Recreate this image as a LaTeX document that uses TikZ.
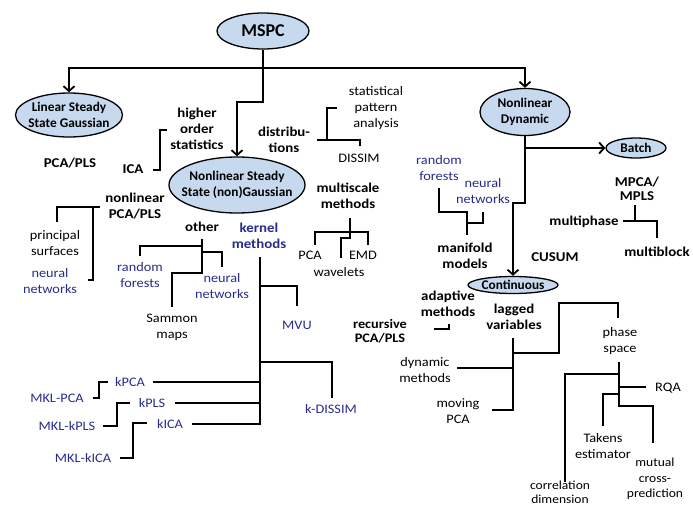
\documentclass[tikz,border=0pt]{standalone}
\usepackage{fontspec}
\setmainfont{Carlito}
\newfontfamily\lblfont{Carlito}[FakeStretch=1.1]
\usetikzlibrary{shapes.geometric,arrows.meta}
\definecolor{kblue}{RGB}{40,45,140}
\definecolor{ovalfill}{RGB}{198,217,238}
\begin{document}
\begin{tikzpicture}[x=1pt,y=-1pt,
  lbl/.style={font=\lblfont\fontsize{13}{16}\selectfont, align=center, inner sep=0pt},
  blbl/.style={lbl, font=\lblfont\fontsize{13.5}{16}\selectfont\bfseries},
  blu/.style={lbl, text=kblue},
  oval/.style={ellipse, draw, line width=1.3pt, fill=ovalfill, inner xsep=-14pt, inner ysep=-4pt,
    align=center, font=\fontsize{13.3}{16.5}\selectfont\bfseries},
  trunk/.style={line width=2.2pt, line join=miter},
  arr/.style={trunk, -{Straight Barb[length=5pt,width=11pt,line width=1.8pt]}},
  br/.style={line width=1.4pt}
]
\fill[white] (0,0) rectangle (693,506);
\useasboundingbox (0,0) rectangle (693,506);

% ---- category ovals ----
\node[oval, minimum width=92pt, minimum height=36pt, font=\fontsize{18}{20}\selectfont\bfseries] (mspc) at (263,31) {MSPC};
\node[oval, minimum width=107pt, minimum height=44pt] (lin) at (69,115) {Linear Steady\\State Gaussian};
\node[oval, minimum width=136pt, minimum height=56pt] (nss) at (237,185) {Nonlinear Steady\\State (non)Gaussian};
\node[oval, minimum width=90pt, minimum height=47pt] (nld) at (525,112) {Nonlinear\\Dynamic};
\node[oval, minimum width=60pt, minimum height=20pt] (batch) at (636,148) {Batch};
\node[oval, minimum width=90pt, minimum height=17pt] (cont) at (513,285) {Continuous};

% ---- method labels ----
\node[blbl] (pcapls) at (70,163) {PCA/PLS};
\node[blbl] (hos) at (197,129) {higher\\order\\statistics};
\node[blbl] (ica) at (133,169) {ICA};
\node[blbl] (distr) at (284,140) {distribu-\\tions};
\node[lbl] (spa) at (376,108) {statistical\\pattern\\analysis};
\node[lbl] (dissim) at (359,158) {DISSIM};
\node[blbl] (msm) at (348,196) {multiscale\\methods};
\node[lbl] (mspca) at (310,255) {PCA};
\node[lbl] (emd) at (363,255) {EMD};
\node[lbl] (wav) at (339,272) {wavelets};
\node[blbl] (nlpca) at (135,206) {nonlinear\\PCA/PLS};
\node[lbl] (ps) at (55,243) {principal\\surfaces};
\node[blu] (nn1) at (50,281) {neural\\networks};
\node[blbl] (other) at (202,227) {other};
\node[blu] (rf1) at (140,275) {random\\forests};
\node[blu] (nn2) at (222,286) {neural\\networks};
\node[lbl] (sam) at (172,327) {Sammon\\maps};
\node[blu, font=\lblfont\fontsize{13.5}{16}\selectfont\bfseries] (kern) at (259,236) {kernel\\methods};
\node[blu] (mvu) at (297,325) {MVU};
\node[blu] (kdis) at (331,409) {k-DISSIM};
\node[blu] (kpca) at (130,382) {kPCA};
\node[blu] (kpls) at (152,403) {kPLS};
\node[blu] (kica) at (170,424) {kICA};
\node[blu] (mklpca) at (57,398) {MKL-PCA};
\node[blu] (mklkpls) at (67,426) {MKL-kPLS};
\node[blu] (mklkica) at (83,458) {MKL-kICA};
\node[blu] (rf2) at (439,168) {random\\forests};
\node[blu] (nn3) at (483,191) {neural\\networks};
\node[blbl] (manif) at (465,256) {manifold\\models};
\node[blbl] (cusum) at (555,257) {CUSUM};
\node[blbl, font=\lblfont\fontsize{13.5}{14.5}\selectfont\bfseries] (mpcab) at (637,189) {MPCA/\\MPLS};
\node[blbl] (mphase) at (584,222) {multiphase};
\node[blbl] (mblock) at (657,252) {multiblock};
\node[blbl] (adapt) at (448,304) {adaptive\\methods};
\node[blbl, font=\lblfont\fontsize{13}{13.5}\selectfont\bfseries] (recur) at (380,331) {recursive\\PCA/PLS};
\node[blbl] (lagged) at (514,317) {lagged\\variables};
\node[lbl] (dynm) at (425,370) {dynamic\\methods};
\node[lbl] (movpca) at (458,411) {moving\\PCA};
\node[lbl] (phase) at (620,341) {phase\\space};
\node[lbl] (rqa) at (668,388) {RQA};
\node[lbl] (takens) at (603,446) {Takens\\estimator};
\node[lbl, font=\lblfont\fontsize{12.3}{15.5}\selectfont] (mutual) at (655,479) {mutual\\cross-\\prediction};
\node[lbl, font=\lblfont\fontsize{12.3}{14}\selectfont] (corr) at (560,492) {correlation\\dimension};

% ---- main hierarchy ----
\coordinate (bus) at (263,68);
\coordinate (mstep) at (263,102);
\draw[trunk] (mspc) -- (bus);
\draw[arr] (bus) -| (lin.north);
\draw[arr] (bus) -| (nld.north);
\draw[arr] (bus) -- (mstep) -| (nss.north);
\coordinate (dj) at (525,148);
\coordinate (djog) at (525,203);
\draw[arr] (nld.south) -- (dj) -- (batch.west);
\draw[arr] (dj) -- (djog) -| (cont.north);

% ---- bracket joints ----
\coordinate (hosT) at (167,130);
\coordinate (icaT) at (153,170);
\coordinate (distrT) at (317,140);
\coordinate (dj2) at (327,140);
\coordinate (dissimT) at (360,146);
\coordinate (spaT) at (337,108);
\coordinate (msT) at (350,218);
\coordinate (msj) at (350,232);
\coordinate (msb) at (350,238);
\coordinate (pcaT) at (315,245);
\coordinate (emdT) at (368,245);
\coordinate (wavT) at (341,258);
\coordinate (nlT) at (100,207);
\coordinate (nlj) at (93,207);
\coordinate (psT) at (57,222);
\coordinate (nnT) at (88,280);
\coordinate (othT) at (202,239);
\coordinate (othB) at (202,273);
\coordinate (o1) at (202,246);
\coordinate (o2) at (202,252);
\coordinate (rfT) at (140,256);
\coordinate (nn2T) at (222,267);
\coordinate (samT) at (172,307);
\coordinate (kT) at (260,257);
\coordinate (kB) at (260,424);
\coordinate (k1) at (260,286);
\coordinate (k2) at (260,362);
\coordinate (mvuT) at (297,306);
\coordinate (kdT) at (332,398);
\coordinate (kpcaE) at (153,382);
\coordinate (kplsE) at (175,403);
\coordinate (kicaE) at (192,424);
\coordinate (m1a) at (93,398);
\coordinate (m1b) at (108,382);
\coordinate (m2a) at (103,426);
\coordinate (m2b) at (130,403);
\coordinate (m3a) at (120,458);
\coordinate (m3b) at (147,423);
\coordinate (rf2B) at (439,188);
\coordinate (mj) at (467,212);
\coordinate (mj2) at (467,223);
\coordinate (manT) at (467,235);
\coordinate (nn3B) at (483,212);
\coordinate (mpT) at (635,205);
\coordinate (mpj) at (635,221);
\coordinate (mphE) at (623,221);
\coordinate (mbT) at (657,238);
\coordinate (recE) at (434,329);
\coordinate (adB) at (449,324);
\coordinate (lgT) at (513,338);
\coordinate (lgB) at (513,410);
\coordinate (lg1) at (513,368);
\coordinate (lg2) at (513,353);
\coordinate (dmE) at (457,368);
\coordinate (mvE) at (492,410);
\coordinate (ph1) at (559,303);
\coordinate (phT) at (618,318);
\coordinate (pT) at (619,362);
\coordinate (pB) at (619,406);
\coordinate (p1) at (619,374);
\coordinate (p2) at (619,387);
\coordinate (p3) at (619,394);
\coordinate (crT) at (565,482);
\coordinate (rqE) at (646,387);
\coordinate (tkT) at (603,426);
\coordinate (muT) at (653,443);

% ---- brackets ----
\draw[br] (hosT) -- ++(-7,0) |- (icaT);
\draw[br] (distrT) -| (dissimT);
\draw[br] (dj2) |- (spaT);
\draw[br] (msT) -- (msb) -| (wavT);
\draw[br] (pcaT) |- (msj) -| (emdT);
\draw[br] (psT) |- (nlT);
\draw[br] (nlj) |- (nnT);
\draw[br] (othT) -- (othB) -| (samT);
\draw[br] (rfT) |- (o1);
\draw[br] (o2) -| (nn2T);
\draw[br] (kT) -- (kB) -- (kicaE);
\draw[br] (k1) -| (mvuT);
\draw[br] (k2) -| (kdT);
\draw[br] (kpcaE) -- (kpcaE -| kT);
\draw[br] (kplsE) -- (kplsE -| kT);
\draw[br] (m1a) -- ++(6,0) |- (m1b);
\draw[br] (m2a) -- ++(14,0) |- (m2b);
\draw[br] (m3a) -- ++(13,0) |- (m3b);
\draw[br] (rf2B) |- (mj) -- (manT);
\draw[br] (mj2) -| (nn3B);
\draw[br] (mpT) -- (mpj);
\draw[br] (mphE) -| (mbT);
\draw[br] (recE) -| (adB);
\draw[br] (lgT) -- (lgB) -- (mvE);
\draw[br] (dmE) -- (lg1);
\draw[br] (lg2) -| (ph1) -| (phT);
\draw[br] (pT) -- (pB) -| (muT);
\draw[br] (p1) -| (crT);
\draw[br] (p2) -- (rqE);
\draw[br] (p3) -| (tkT);
\end{tikzpicture}
\end{document}
